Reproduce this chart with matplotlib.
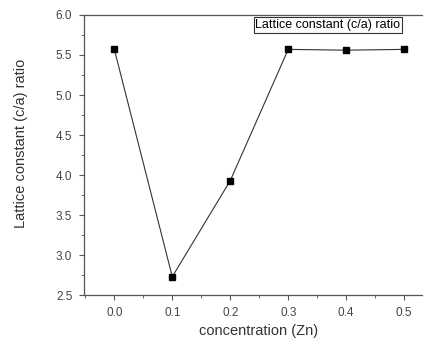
import matplotlib.pyplot as plt
from matplotlib.ticker import MultipleLocator

plt.rcParams['font.family'] = ['Liberation Sans', 'DejaVu Sans']

# concentracion de Zn y relacion c/a
concentracion = [0.0, 0.1, 0.2, 0.3, 0.4, 0.5]
relacion_ca = [5.57, 2.73, 3.93, 5.57, 5.56, 5.57]

fig = plt.figure(figsize=(4.23, 3.40), dpi=100)
ax = fig.add_axes([0.199, 0.132, 0.825, 0.824])

ax.plot(concentracion, relacion_ca, color='#333333', linewidth=0.8,
        marker='s', markersize=5, markerfacecolor='black',
        markeredgecolor='black', label='Lattice constant (c/a) ratio')

ax.set_xlim(-0.052, 0.55)
ax.set_ylim(2.5, 6.0)
ax.xaxis.set_major_locator(MultipleLocator(0.1))
ax.xaxis.set_minor_locator(MultipleLocator(0.05))
ax.yaxis.set_major_locator(MultipleLocator(0.5))
ax.yaxis.set_minor_locator(MultipleLocator(0.25))
ax.xaxis.set_major_formatter(plt.FormatStrFormatter('%.1f'))
ax.yaxis.set_major_formatter(plt.FormatStrFormatter('%.1f'))

ax.tick_params(which='both', direction='out', top=False, right=False,
               color='#555555', labelcolor='#444444', labelsize=8.5)
ax.tick_params(which='major', length=3.5, width=0.8, pad=5)
ax.tick_params(which='minor', length=2, width=0.6)
for s in ax.spines.values():
    s.set_color('#555555')
    s.set_linewidth(0.9)

ax.set_xlabel('concentration (Zn)', fontsize=10.5, color='#333333', labelpad=4)
ax.set_ylabel('Lattice constant (c/a) ratio', fontsize=10.5, color='#333333', labelpad=20)
ax.yaxis.label.set_y(0.54)

ley = ax.legend(loc='upper right', bbox_to_anchor=(0.917, 1.0), fontsize=9,
                handlelength=0, handletextpad=0, markerscale=0,
                fancybox=False, framealpha=1, borderpad=0.15, borderaxespad=0.15)
ley.get_frame().set_edgecolor('#333333')
ley.get_frame().set_linewidth(0.8)
for h in ley.legend_handles:
    h.set_visible(False)

fig.savefig('out.png', dpi=100)
